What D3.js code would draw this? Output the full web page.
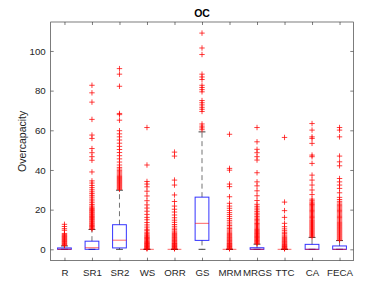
<!DOCTYPE html>
<html>
<head>
<meta charset="utf-8">
<script src="https://cdn.jsdelivr.net/npm/d3@7"></script>
<style>
  body { margin: 0; background: #fff; }
  text { font-family: "Liberation Sans", Arial, sans-serif; }
</style>
</head>
<body>
<div id="chart"></div>
<script>
// box plot data
const categories = ["R", "SR1", "SR2", "WS", "ORR", "GS", "MRM", "MRGS", "TTC", "CA", "FECA"];
const q1 =          [0,   0,   0.7,  0, 0, 4.5,  0, 0,   0, 0,   0];
const medians =     [0,   0.8, 4.6,  0, 0, 13.1, 0, 0,   0, 0,   0];
const q3 =          [0.7, 4.1, 12.4, 0, 0, 26.3, 0, 0.8, 0, 2.5, 1.7];
const whiskerLow =  [0,   0,   0,    0, 0, 0,    0, 0,   0, 0,   0];
const whiskerHigh = [1.7, 10,  29.8, 0, 0, 59.2, 0, 2.6, 0, 6.0, 4.4];

const outR = [1.9, 2.3, 2.6, 3.0, 3.3, 3.7, 4.0, 4.4, 4.8, 5.1, 5.5, 5.9, 6.3, 6.6, 7.0, 7.5, 8.0, 9.6, 10.4, 11.5, 12.6];
const outSR1 = [10.2, 10.6, 11.1, 11.5, 12.0, 12.4, 12.9, 13.3, 13.8, 14.2, 14.7, 15.1, 15.6, 16.0, 16.5, 16.9, 17.4, 17.8,
  18.3, 18.7, 19.2, 19.6, 20.1, 20.6, 21.2, 21.8, 22.6, 23.5, 24.4, 25.3, 26.3, 27.2, 28.1, 29.0, 30.0, 31.1, 32.2, 33.4,
  34.5, 39.0, 44.9, 46.7, 48.7, 50.8, 55.9, 57.6, 65.5, 74.2, 78.9, 82.7];
const outSR2 = [30.2, 30.7, 31.2, 31.7, 32.2, 32.7, 33.2, 33.7, 34.2, 34.7, 35.2, 35.7, 36.2, 36.7, 37.3, 37.9, 38.5, 39.1,
  39.8, 40.5, 41.3, 42.5, 44.0, 45.6, 47.2, 48.8, 50.3, 51.9, 53.5, 55.1, 56.7, 58.2, 59.8, 65.1, 67.9, 68.5, 82.2, 88.3, 91.1];
const outWS = [0.2, 0.5, 0.8, 1.1, 1.4, 1.7, 2.0, 2.3, 2.6, 2.9, 3.2, 3.5, 3.9, 4.3, 4.7, 5.1, 5.5, 5.9, 6.3, 6.8, 7.3, 7.9,
  8.6, 9.4, 10.1, 11.2, 12.3, 13.5, 14.9, 16.1, 17.6, 19.2, 20.8, 22.4, 24.5, 26.9, 29.3, 31.5, 32.9, 34.2, 42.5, 61.4];
const outORR = [0.2, 0.5, 0.8, 1.1, 1.4, 1.7, 2.0, 2.3, 2.6, 2.9, 3.2, 3.6, 4.0, 4.4, 4.8, 5.2, 5.6, 6.0, 6.5, 7.0, 7.5, 8.0,
  8.6, 9.2, 9.9, 10.7, 11.6, 12.5, 13.6, 14.7, 15.9, 17.3, 18.8, 20.2, 21.8, 24.1, 27.4, 32.4, 34.9, 47.0, 49.0];
const outGS = [60.3, 61.2, 62.1, 63.2, 69.5, 70.6, 71.6, 72.8, 73.9, 75.0, 79.4, 80.5, 81.6, 82.7, 85.6, 86.9, 88.3, 98.2, 101.5, 109.0];
const outMRM = [0.2, 0.5, 0.8, 1.1, 1.4, 1.7, 2.0, 2.3, 2.6, 2.9, 3.2, 3.6, 4.0, 4.4, 4.8, 5.2, 5.6, 6.0, 6.5, 7.0, 7.5, 8.0,
  8.6, 9.2, 9.8, 10.5, 11.2, 12.0, 12.8, 13.7, 14.6, 15.5, 16.5, 17.5, 18.5, 19.6, 20.7, 21.8, 23.2, 26.5, 31.6, 32.9, 39.9, 40.8, 58.0];
const outMRGS = [2.8, 3.2, 3.6, 4.0, 4.4, 4.8, 5.2, 5.6, 6.0, 6.4, 6.8, 7.2, 7.6, 8.0, 8.5, 9.0, 9.5, 10.0, 10.6, 11.2, 11.8,
  12.4, 13.0, 13.7, 14.4, 15.1, 15.8, 16.6, 17.4, 18.2, 19.0, 19.9, 20.8, 21.7, 22.7, 24.6, 27.0, 29.5, 32.0, 34.0, 38.6,
  45.0, 46.7, 48.7, 50.4, 54.2, 61.4];
const outTTC = [0.2, 0.5, 0.8, 1.1, 1.4, 1.7, 2.0, 2.4, 2.8, 3.2, 3.6, 4.0, 4.5, 5.0, 5.5, 6.0, 6.6, 7.2, 7.9, 8.6, 9.4, 10.3,
  11.4, 13.1, 16.1, 19.5, 23.8, 56.4];
const outCA = [6.3, 6.8, 7.3, 7.8, 8.3, 8.8, 9.3, 9.8, 10.3, 10.8, 11.3, 11.8, 12.3, 12.8, 13.3, 13.8, 14.3, 14.8, 15.4, 16.0,
  16.6, 17.2, 17.8, 18.4, 19.0, 19.6, 20.2, 20.8, 21.4, 22.0, 22.6, 23.2, 23.8, 24.5, 25.3, 27.6, 29.9, 32.4, 34.9, 37.4,
  43.3, 46.7, 47.5, 53.4, 55.9, 56.7, 60.1, 63.4];
const outFECA = [4.6, 5.1, 5.6, 6.1, 6.6, 7.1, 7.6, 8.1, 8.6, 9.1, 9.6, 10.1, 10.6, 11.1, 11.6, 12.1, 12.6, 13.1, 13.6, 14.2,
  14.8, 15.4, 16.0, 16.6, 17.2, 17.8, 18.4, 19.0, 19.6, 20.2, 20.8, 21.4, 22.0, 22.7, 23.4, 24.2, 25.1, 26.2, 28.5, 30.7,
  32.4, 34.0, 35.7, 42.1, 44.1, 47.0, 56.7, 60.1, 61.4];
const outliers = [outR, outSR1, outSR2, outWS, outORR, outGS, outMRM, outMRGS, outTTC, outCA, outFECA];

const yTicks = [0, 20, 40, 60, 80, 100];

const W = 390, H = 293;
const MARGIN = { TOP: 22, BOTTOM: 32.3, LEFT: 50.7, RIGHT: 36.7 };
const AXIS = "#262626";

const svg = d3.select("#chart").append("svg")
  .attr("width", W)
  .attr("height", H);

const x = d3.scaleLinear()
  .domain([0.5, categories.length + 0.5])
  .range([MARGIN.LEFT, W - MARGIN.RIGHT]);

const y = d3.scaleLinear()
  .domain([-5.74, 114.6])
  .range([H - MARGIN.BOTTOM, MARGIN.TOP]);

const idx = d3.range(categories.length);
const pos = i => x(i + 1);
const boxHalf = (x(1.25) - x(1));
const capHalf = (x(1.125) - x(1));

// axes, ticks pointing inward like matlab
const xAxis = d3.axisBottom(x).tickValues(idx.map(i => i + 1)).tickFormat(d => categories[d - 1])
  .tickSizeInner(-3).tickSizeOuter(0).tickPadding(8);
const yAxis = d3.axisLeft(y).tickValues(yTicks).tickSizeInner(-3).tickSizeOuter(0).tickPadding(5);

svg.append("g")
  .attr("transform", `translate(0,${H - MARGIN.BOTTOM})`)
  .call(xAxis)
  .call(g => g.selectAll("text").attr("font-size", 9.7).attr("fill", AXIS).attr("font-family", "Liberation Sans, Arial, sans-serif"));

svg.append("g")
  .attr("transform", `translate(0,${MARGIN.TOP})`)
  .call(d3.axisTop(x).tickValues(idx.map(i => i + 1)).tickFormat("").tickSizeInner(-3).tickSizeOuter(0));

svg.append("g")
  .attr("transform", `translate(${MARGIN.LEFT},0)`)
  .call(yAxis)
  .call(g => g.selectAll("text").attr("font-size", 9.7).attr("fill", AXIS).attr("font-family", "Liberation Sans, Arial, sans-serif"));

svg.append("g")
  .attr("transform", `translate(${W - MARGIN.RIGHT},0)`)
  .call(d3.axisRight(y).tickValues(yTicks).tickFormat("").tickSizeInner(-3).tickSizeOuter(0));

svg.selectAll(".domain").remove();
svg.selectAll(".tick line").attr("stroke", AXIS).attr("stroke-width", 0.6);

svg.append("rect")
  .attr("x", MARGIN.LEFT)
  .attr("y", MARGIN.TOP)
  .attr("width", W - MARGIN.LEFT - MARGIN.RIGHT)
  .attr("height", H - MARGIN.TOP - MARGIN.BOTTOM)
  .attr("fill", "none")
  .attr("stroke", AXIS)
  .attr("stroke-width", 0.6);

const plot = svg.append("g");

// whiskers (dashed)
plot.selectAll(".whUp").data(idx).enter().append("line")
  .attr("x1", pos).attr("x2", pos)
  .attr("y1", i => y(q3[i])).attr("y2", i => y(whiskerHigh[i]))
  .attr("stroke", "#000").attr("stroke-opacity", 0.55).attr("stroke-dasharray", "5,3.5");

plot.selectAll(".whLo").data(idx).enter().append("line")
  .attr("x1", pos).attr("x2", pos)
  .attr("y1", i => y(q1[i])).attr("y2", i => y(whiskerLow[i]))
  .attr("stroke", "#000").attr("stroke-opacity", 0.55).attr("stroke-dasharray", "5,3.5");

// whisker caps
[whiskerHigh, whiskerLow].forEach(w => {
  plot.selectAll(null).data(idx).enter().append("line")
    .attr("x1", i => pos(i) - capHalf).attr("x2", i => pos(i) + capHalf)
    .attr("y1", i => y(w[i])).attr("y2", i => y(w[i]))
    .attr("stroke", "#000").attr("stroke-opacity", 0.75);
});

// boxes
plot.selectAll(".box").data(idx).enter().append("rect")
  .attr("x", i => pos(i) - boxHalf)
  .attr("width", boxHalf * 2)
  .attr("y", i => y(q3[i]))
  .attr("height", i => y(q1[i]) - y(q3[i]))
  .attr("fill", "none")
  .attr("stroke", "#0000ff")
  .attr("stroke-opacity", 0.8);

// medians
plot.selectAll(".med").data(idx).enter().append("line")
  .attr("x1", i => pos(i) - boxHalf).attr("x2", i => pos(i) + boxHalf)
  .attr("y1", i => y(medians[i])).attr("y2", i => y(medians[i]))
  .attr("stroke", "#ff0000").attr("stroke-opacity", 0.6);

// outliers as '+' markers
const pts = [];
outliers.forEach((arr, i) => arr.forEach(v => pts.push({ i: i, v: v })));
const plus = "M-2.7,0H2.7M0,-2.7V2.7";
plot.selectAll(".out").data(pts).enter().append("path")
  .attr("d", plus)
  .attr("transform", d => `translate(${pos(d.i)},${y(d.v)})`)
  .attr("fill", "none")
  .attr("stroke", "#ff0000")
  .attr("stroke-opacity", 0.75)
  .attr("stroke-width", 1);

// title & labels
svg.append("text")
  .attr("x", (MARGIN.LEFT + W - MARGIN.RIGHT) / 2)
  .attr("y", 16.8)
  .attr("text-anchor", "middle")
  .attr("font-size", 10.5)
  .attr("font-weight", "bold")
  .text("OC");

svg.append("text")
  .attr("transform", `translate(25.5,${(MARGIN.TOP + H - MARGIN.BOTTOM) / 2}) rotate(-90)`)
  .attr("text-anchor", "middle")
  .attr("font-size", 10.5)
  .attr("fill", AXIS)
  .text("Overcapacity");
</script>
</body>
</html>
